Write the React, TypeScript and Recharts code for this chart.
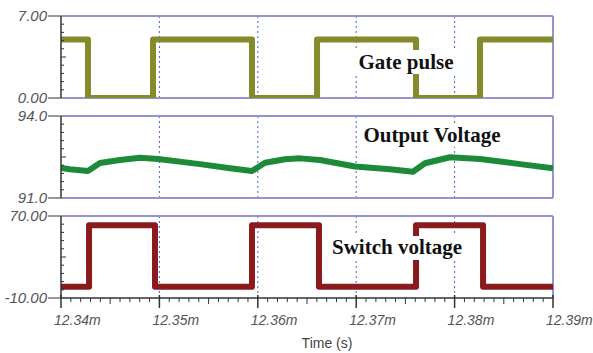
import { LineChart, Line, XAxis, YAxis, ReferenceLine } from 'recharts'

// time axis (ms)
const timeTicks = [12.34, 12.35, 12.36, 12.37, 12.38, 12.39]
const timeLabels = ['12.34m', '12.35m', '12.36m', '12.37m', '12.38m', '12.39m']

// gate pulse: edge times and level after each edge
const gateTimes = [12.34, 12.34274, 12.34935, 12.35941, 12.36602, 12.37608, 12.38258, 12.39]
const gateLevels = [5, 0, 5, 0, 5, 0, 5, 5]

// switch voltage: edge times and level after each edge
const switchTimes = [12.34, 12.34285, 12.34955, 12.35941, 12.36622, 12.37608, 12.38289, 12.39]
const switchLevels = [1, 61, 1, 61, 1, 61, 1, 1]

// output voltage samples
const outputTimes = [
  12.34, 12.34091, 12.34274, 12.34396, 12.346, 12.34803, 12.34986, 12.35413, 12.35718,
  12.35941, 12.36073, 12.36276, 12.36429, 12.36632, 12.36988, 12.37344, 12.37577, 12.37699,
  12.37953, 12.38258, 12.38665, 12.39,
]
const outputVolts = [
  92.1, 92.05, 91.99, 92.28, 92.39, 92.47, 92.43, 92.24, 92.09,
  91.99, 92.29, 92.42, 92.45, 92.39, 92.15, 92.05, 91.96, 92.27,
  92.49, 92.43, 92.24, 92.09,
]

const gateRange = [0, 7]
const gateLabels = ['0.00', '7.00']
const outputRange = [91, 94]
const outputLabels = ['91.0', '94.0']
const switchRange = [-10, 70]
const switchLabels = ['-10.00', '70.00']

const gateData = gateTimes.map((t, i) => ({ t, v: gateLevels[i] }))
const switchData = switchTimes.map((t, i) => ({ t, v: switchLevels[i] }))
const outputData = outputTimes.map((t, i) => ({ t, v: outputVolts[i] }))

const minorTimeTicks: number[] = []
timeTicks.forEach((t0, i) => {
  if (i === timeTicks.length - 1) {
    minorTimeTicks.push(t0)
    return
  }
  for (let k = 0; k < 10; k++) minorTimeTicks.push(Number((t0 + k * 0.001).toFixed(4)))
})

const divTicks = (r: number[]) => {
  const out: number[] = []
  for (let k = 0; k <= 10; k++) out.push(r[0] + ((r[1] - r[0]) * k) / 10)
  return out
}

const tickFont = { fontFamily: 'Liberation Sans, Arial, sans-serif', fontStyle: 'italic' as const }
const AXIS = '#333'
const FRAME = '#9494d0'
const GRID = '#3f63cc'

function makeYTick(labels: string[]) {
  return (props: any) => {
    const { x, y, index } = props
    if (index === 0 || index === 10) {
      return (
        <g>
          <line x1={x - 13} x2={x} y1={y} y2={y} stroke={AXIS} strokeWidth={1} />
          <text x={x - 14} y={y} dy="0.35em" textAnchor="end" fontSize={15} fill="#555" {...tickFont}>
            {labels[index === 0 ? 0 : 1]}
          </text>
        </g>
      )
    }
    return <line x1={x} x2={x + (index === 5 ? 5 : 3)} y1={y} y2={y} stroke={AXIS} strokeWidth={1} />
  }
}

function XTick(props: any) {
  const { x, y, index } = props
  if (index % 10 === 0) {
    return (
      <g>
        <line x1={x} x2={x} y1={y - 3} y2={y + 10} stroke={AXIS} strokeWidth={1.5} />
        <text x={x - 7} y={y + 27} textAnchor="start" fontSize={14} fill="#555" {...tickFont}>
          {timeLabels[index / 10]}
        </text>
      </g>
    )
  }
  return <line x1={x} x2={x} y1={y} y2={y + (index % 5 === 0 ? 6 : 4)} stroke={AXIS} strokeWidth={1} />
}

interface PanelProps {
  data: Array<{ t: number; v: number }>
  color: string
  range: number[]
  labels: string[]
  top: number
  height: number
  step: boolean
  bottomAxis?: boolean
}

function Panel({ data, color, range, labels, top, height, step, bottomAxis }: PanelProps) {
  return (
    <div style={{ position: 'absolute', left: 0, top }}>
      <LineChart
        width={593}
        height={height}
        data={data}
        margin={{ top: 16, right: 40, left: 0, bottom: bottomAxis ? 25 : 8 }}
      >
        <XAxis
          dataKey="t"
          type="number"
          domain={[timeTicks[0], timeTicks[timeTicks.length - 1]]}
          allowDataOverflow
          hide={!bottomAxis}
          ticks={minorTimeTicks}
          interval={0}
          height={30}
          tickSize={0}
          tickMargin={0}
          tick={<XTick />}
          axisLine={{ stroke: AXIS, strokeWidth: 1.5 }}
          tickLine={false}
        />
        <YAxis
          type="number"
          domain={range}
          allowDataOverflow
          ticks={divTicks(range)}
          interval={0}
          width={61}
          tickSize={0}
          tickMargin={0}
          tick={makeYTick(labels)}
          axisLine={{ stroke: AXIS, strokeWidth: 1.5 }}
          tickLine={false}
        />
        {timeTicks.slice(1, -1).map((t) => (
          <ReferenceLine key={t} x={t} stroke={GRID} strokeDasharray="2 3" strokeWidth={1} />
        ))}
        <ReferenceLine y={range[1]} stroke={FRAME} strokeWidth={2} />
        {!bottomAxis && <ReferenceLine y={range[0]} stroke={FRAME} strokeWidth={2} />}
        <ReferenceLine x={timeTicks[timeTicks.length - 1]} stroke={FRAME} strokeWidth={2} />
        <Line
          type={step ? 'stepAfter' : 'linear'}
          dataKey="v"
          stroke={color}
          strokeWidth={6}
          strokeLinejoin="round"
          dot={false}
          isAnimationActive={false}
        />
      </LineChart>
    </div>
  )
}

const labelFont = { fontFamily: 'Liberation Serif, Times New Roman, serif', fontWeight: 700 as const }

export default function App() {
  return (
    <div style={{ position: 'absolute', left: 0, top: 0, width: 593, height: 353, background: '#fff' }}>
      <Panel data={gateData} color="#858a2a" range={gateRange} labels={gateLabels} top={0} height={106} step />
      <Panel data={outputData} color="#1c8a38" range={outputRange} labels={outputLabels} top={100} height={106} step={false} />
      <Panel data={switchData} color="#8a1a1c" range={switchRange} labels={switchLabels} top={200} height={153} step bottomAxis />
      <svg width={593} height={353} style={{ position: 'absolute', left: 0, top: 0, pointerEvents: 'none' }}>
        <rect x={355} y={50} width={103} height={24} fill="#fff" />
        <text x={406} y={62} dy="0.35em" textAnchor="middle" fontSize={21} fill="#111" {...labelFont}>
          Gate pulse
        </text>
        <rect x={360} y={123} width={145} height={24} fill="#fff" />
        <text x={432} y={135} dy="0.35em" textAnchor="middle" fontSize={21} fill="#111" {...labelFont}>
          Output Voltage
        </text>
        <rect x={327} y={236} width={141} height={24} fill="#fff" />
        <text x={397} y={247} dy="0.35em" textAnchor="middle" fontSize={21} fill="#111" {...labelFont}>
          Switch voltage
        </text>
        <text x={327} y={343} dy="0.35em" textAnchor="middle" fontSize={14} fill="#444" fontFamily="Liberation Sans, Arial, sans-serif">
          Time (s)
        </text>
      </svg>
    </div>
  )
}
